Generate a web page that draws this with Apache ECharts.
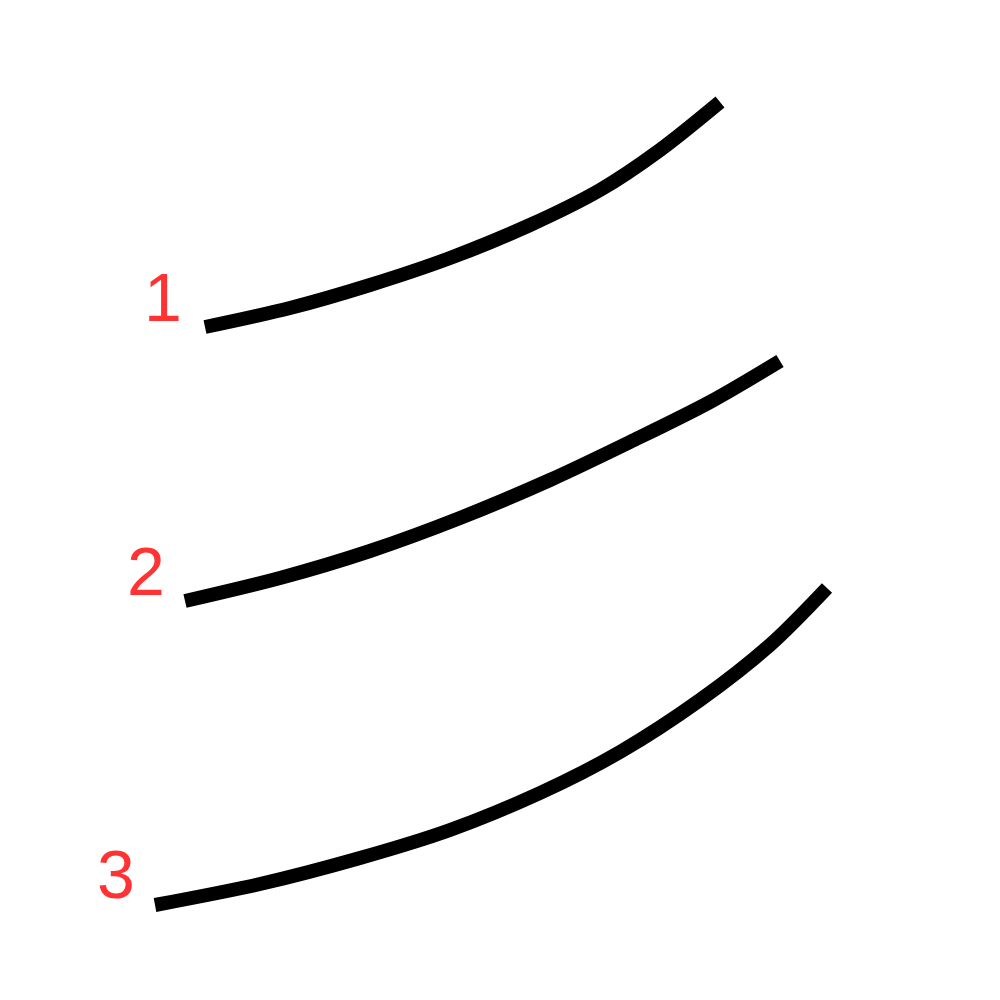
<!DOCTYPE html>
<html>
<head>
<meta charset="utf-8">
<script src="https://cdn.jsdelivr.net/npm/echarts@6/dist/echarts.min.js"></script>
<style>html,body{margin:0;padding:0;background:#fff}#c{width:1000px;height:1000px}</style>
</head>
<body>
<div id="c"></div>
<script>
// stroke paths, in picture coordinates (y down)
const stroke1 = [[205, 327], [290, 308], [370, 285], [450, 258], [530, 225], [600, 190], [660, 150], [720, 102]];
const stroke2 = [[185, 601], [280, 578], [370, 551], [460, 518], [550, 480], [630, 442], [710, 402], [780, 361]];
const stroke3 = [[155, 905], [260, 884], [360, 858], [450, 830], [540, 793], [620, 752], [700, 700], [770, 645], [827, 588]];
const strokes = [stroke1, stroke2, stroke3];
const numbers = [['1', 163, 302], ['2', 146, 576], ['3', 116, 879]];

const chart = echarts.init(document.getElementById('c'));
const series = strokes.map(pts => ({
    type: 'line',
    data: pts,
    smooth: 0.3,
    symbol: 'none',
    lineStyle: { color: '#000', width: 14, cap: 'butt' },
    silent: true
}));
series.push({
    type: 'scatter',
    symbolSize: 0,
    data: numbers.map(n => ({ value: [n[1], n[2]], name: n[0] })),
    label: {
        show: true,
        formatter: p => p.name,
        position: 'inside',
        color: '#ff0000',
        fontSize: 68,
        fontFamily: 'Liberation Sans'
    }
});
chart.setOption({
    animation: false,
    grid: { left: 0, right: 0, top: 0, bottom: 0 },
    xAxis: { type: 'value', min: 0, max: 1000, show: false },
    yAxis: { type: 'value', min: 0, max: 1000, inverse: true, show: false },
    series
});
</script>
</body>
</html>
